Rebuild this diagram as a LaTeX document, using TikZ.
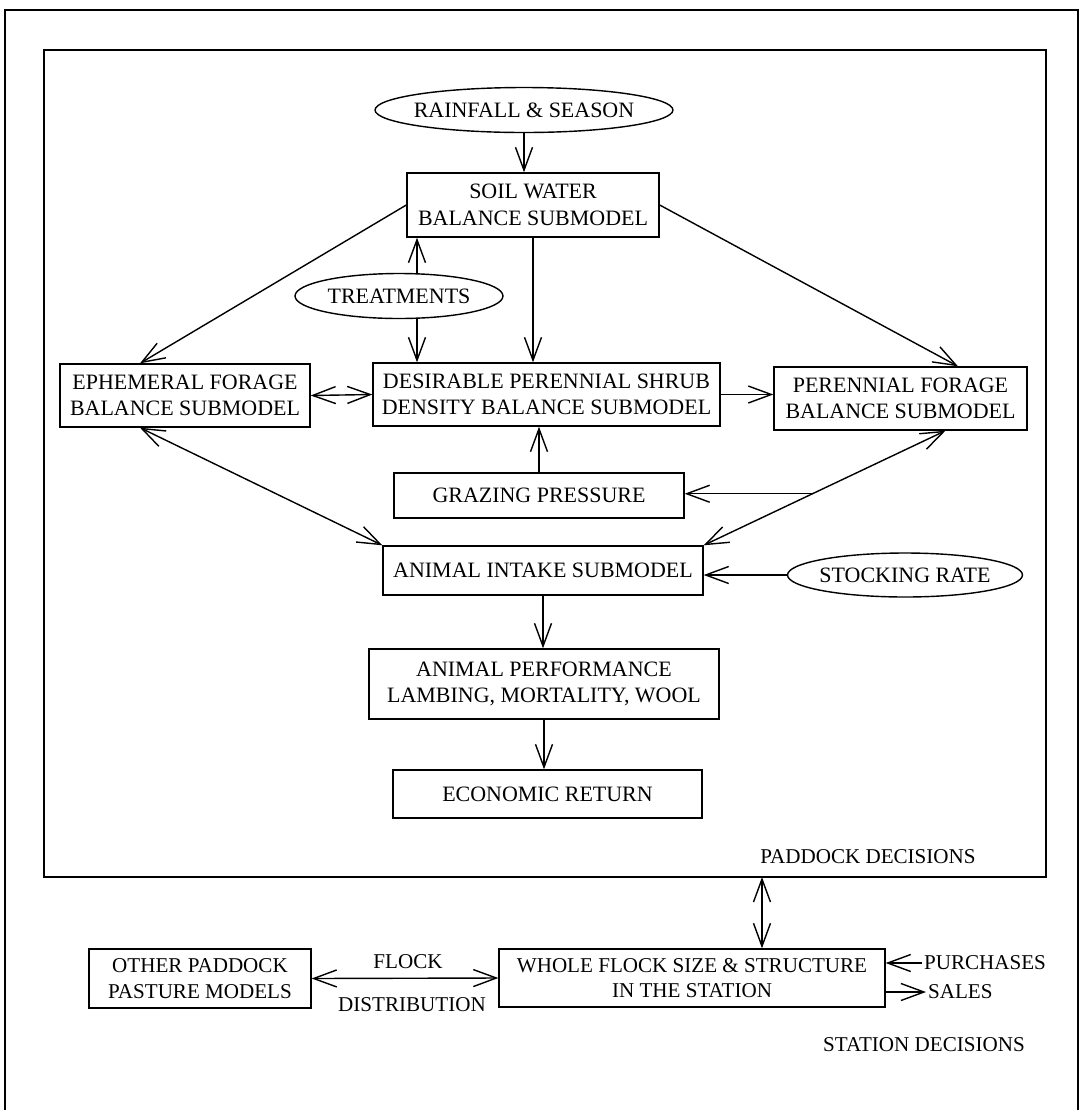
\documentclass[tikz,border=0pt]{standalone}
\usepackage{fontspec}
\setmainfont{Liberation Serif}
\usepackage{tikz}
\usetikzlibrary{arrows.meta}
\usetikzlibrary{shapes.geometric}
\usetikzlibrary{calc}
\tikzset{
  >={Straight Barb[length=4.6mm,width=3.4mm]},
  frameline/.style={draw=black,line width=0.9pt},
  link/.style={draw=black,line width=0.8pt},
  submodel/.style={draw=black,line width=0.8pt,align=center,inner sep=2pt,
    font=\fontsize{12.5}{15}\selectfont},
  driver/.style={ellipse,draw=black,line width=0.8pt,inner ysep=0pt,
    font=\fontsize{12.5}{15}\selectfont},
  station/.style={draw=black,line width=0.8pt,align=center,inner sep=2pt,
    font=\fontsize{12}{14.5}\selectfont},
  tag/.style={inner sep=1pt,font=\fontsize{12}{14.5}\selectfont}
}

\begin{document}
\begin{tikzpicture}[x=0.02cm,y=-0.02cm]
  \useasboundingbox (0,0) rectangle (1086,1110);
  % frames
  \coordinate (outSW) at (5,1110);
  \coordinate (outNE) at (1078,10);
  \coordinate (inNW) at (44,50);
  \coordinate (inSE) at (1046,877);
  \draw (outSW) |- (outNE) -- (outNE |- outSW) [frameline];
  \draw (inNW) rectangle (inSE) [frameline];
  % paddock model
  \node (rain) at (524,110) [driver,inner xsep=-0.15cm,minimum width=5.96cm,minimum height=0.9cm] {RAINFALL \& SEASON};
  \node (soil) at (533,205) [submodel,minimum width=5.04cm,minimum height=1.28cm] {SOIL WATER\\BALANCE SUBMODEL};
  \node (treat) at (399,296) [driver,inner xsep=0pt,minimum width=4.16cm,minimum height=0.9cm] {TREATMENTS};
  \node (ephem) at (185,395.5) [submodel,minimum width=5.0cm,minimum height=1.26cm] {EPHEMERAL FORAGE\\BALANCE SUBMODEL};
  \node (shrub) at (546.5,394.5) [submodel,minimum width=6.94cm,minimum height=1.26cm] {DESIRABLE PERENNIAL SHRUB\\DENSITY BALANCE SUBMODEL};
  \node (perfor) at (900.5,398.5) [submodel,minimum width=5.06cm,minimum height=1.26cm] {PERENNIAL FORAGE\\BALANCE SUBMODEL};
  \node (graz) at (539,495.5) [submodel,minimum width=5.8cm,minimum height=0.9cm] {GRAZING PRESSURE};
  \node (intake) at (543,570.5) [submodel,minimum width=6.4cm,minimum height=0.98cm] {ANIMAL INTAKE SUBMODEL};
  \node (stock) at (905,575) [driver,inner xsep=-0.09cm,minimum width=4.7cm,minimum height=0.88cm] {STOCKING RATE};
  \node (perf) at (544,684) [submodel,minimum width=7.0cm,minimum height=1.4cm] {ANIMAL PERFORMANCE\\LAMBING, MORTALITY, WOOL};
  \node (econ) at (547.5,794) [submodel,minimum width=6.18cm,minimum height=0.96cm] {ECONOMIC RETURN};
  \node (paddock) at (868,857) [tag] {PADDOCK DECISIONS};
  % station level
  \node (other) at (200,978.5) [station,minimum width=4.44cm,minimum height=1.18cm] {OTHER PADDOCK\\PASTURE MODELS};
  \node (whole) at (692,978) [station,minimum width=7.72cm,minimum height=1.16cm] {WHOLE FLOCK SIZE \& STRUCTURE\\IN THE STATION};
  \node (flock) at (408,962) [tag] {FLOCK};
  \node (distr) at (412,1005) [tag] {DISTRIBUTION};
  \node (buy) at (922,963) [tag,anchor=west] {PURCHASES};
  \node (sell) at (926,992) [tag,anchor=west] {SALES};
  \node (station) at (924,1045) [tag] {STATION DECISIONS};
  % connectors
  \draw (rain.south) -- (rain.south |- soil.north) [link,->];
  \draw (soil.west) -- ([xshift=-0.9cm]ephem.north) [link,->];
  \draw (soil.east) -- ([xshift=1.15cm]perfor.north) [link,->];
  \draw (soil.south) -- (soil.south |- shrub.north) [link,->];
  \draw ([xshift=0.36cm]treat.north) -- ([xshift=0.36cm]treat.north |- soil.south) [link,->];
  \draw ([xshift=0.36cm]treat.south) -- ([xshift=0.36cm]treat.south |- shrub.north) [link,->];
  \draw (ephem.east) -- (shrub.west) [link,<->];
  \draw (shrub.east) -- (shrub.east -| perfor.west) [link,->];
  \draw ([xshift=-0.9cm]ephem.south) -- (intake.north west) [link,<->];
  \coordinate (pfTip) at ([xshift=0.9cm]perfor.south);
  \draw (pfTip) -- (intake.north east) [link,<->];
  \coordinate (gjoin) at ($(pfTip)!0.55!(intake.north east)$);
  \draw (gjoin) -- (gjoin -| graz.east) [link,->];
  \draw (graz.north) -- (graz.north |- shrub.south) [link,->];
  \draw (stock.west) -- (stock.west -| intake.east) [link,->];
  \draw (intake.south) -- (intake.south |- perf.north) [link,->];
  \draw (perf.south) -- (perf.south |- econ.north) [link,->];
  \draw ([xshift=1.4cm]whole.north) -- ([xshift=1.4cm]whole.north |- inSE) [link,<->];
  \draw (other.east) -- (whole.west) [link,<->];
  \draw (buy.west) -- (buy.west -| whole.east) [link,->];
  \draw (sell.west -| whole.east) -- (sell.west) [link,->];
\end{tikzpicture}
\end{document}
